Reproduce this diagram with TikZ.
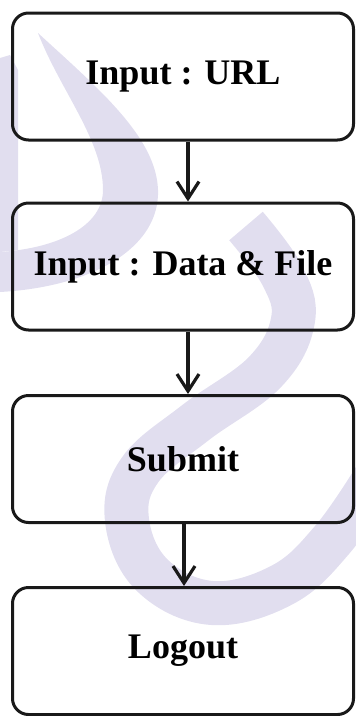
\documentclass[tikz,border=0pt]{standalone}
\usepackage{fontspec}
\setmainfont{Liberation Serif}
\usetikzlibrary{arrows.meta}
\definecolor{wm}{RGB}{225,222,239}
\begin{document}
\begin{tikzpicture}[x=1pt,y=-1pt,
  stepbox/.style={draw=black!90, line width=3pt, rounded corners=16pt,
    minimum width=341pt, minimum height=127pt, inner sep=0pt,
    font=\fontsize{36}{40}\selectfont\bfseries},
  arr/.style={draw=black!90, line width=3.2pt,
    -{Straight Barb[length=17pt,width=22pt,line width=3.2pt]}},
  wmark/.style={draw=wm, line cap=butt}]
\useasboundingbox (0,0) rectangle (356,716);
% watermark
\fill[wm] (38,33) .. controls (100,90) and (160,140) .. (158,195)
  .. controls (156,250) and (90,287) .. (0,292) -- (0,252)
  .. controls (60,248) and (103,225) .. (103,190)
  .. controls (103,140) and (60,90) .. (38,33) -- cycle;
\fill[wm] (0,58) -- (10,55) -- (18,70) -- (18,250) -- (0,252) -- cycle;
\draw[wmark, line width=44pt] plot[smooth, tension=0.65] coordinates {(246,226) (282,275) (293,320) (265,372) (195,423) (140,470) (127,520) (152,575) (212,603) (282,585) (332,540) (375,478)};
% boxes
\node[stepbox] (n1) at (183,76.5) {Input : URL};
\node[stepbox] (n2) at (183,266.5) {Input : Data \& File};
\node[stepbox] (n3) at (183,459) {Submit};
\node[stepbox] (n4) at (183,651) {Logout};
\draw[arr] ([xshift=5pt]n1.south) -- ([xshift=5pt]n2.north);
\draw[arr] ([xshift=5pt]n2.south) -- ([xshift=5pt]n3.north);
\draw[arr] ([xshift=1pt]n3.south) -- ([xshift=1pt]n4.north);
\end{tikzpicture}
\end{document}
